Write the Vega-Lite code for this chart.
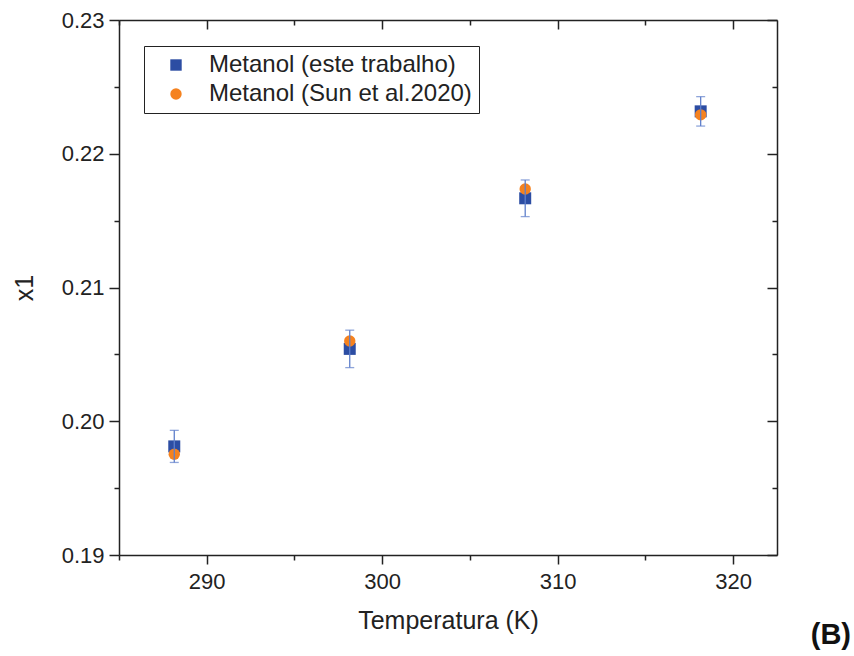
{
  "$schema": "https://vega.github.io/schema/vega-lite/v6.json",
  "width": 658,
  "height": 535,
  "autosize": "none",
  "padding": {"left": 119, "top": 20, "right": 77, "bottom": 101},
  "background": "white",
  "title": {
    "text": "(B)",
    "orient": "bottom",
    "anchor": "end",
    "frame": "group",
    "font": "Liberation Sans",
    "fontSize": 29,
    "fontWeight": "bold",
    "color": "#111111",
    "dx": 74,
    "offset": -12
  },
  "data": {
    "values": [
      {"T": 288.15, "x1": 0.19812, "err": 0.0012, "series": "Metanol (este trabalho)"},
      {"T": 298.15, "x1": 0.20541, "err": 0.0014, "series": "Metanol (este trabalho)"},
      {"T": 308.15, "x1": 0.21667, "err": 0.00137, "series": "Metanol (este trabalho)"},
      {"T": 318.15, "x1": 0.22317, "err": 0.0011, "series": "Metanol (este trabalho)"},
      {"T": 288.15, "x1": 0.19753, "err": null, "series": "Metanol (Sun et al.2020)"},
      {"T": 298.15, "x1": 0.20600, "err": null, "series": "Metanol (Sun et al.2020)"},
      {"T": 308.15, "x1": 0.21737, "err": null, "series": "Metanol (Sun et al.2020)"},
      {"T": 318.15, "x1": 0.22291, "err": null, "series": "Metanol (Sun et al.2020)"}
    ]
  },
  "resolve": {"axis": {"x": "independent", "y": "independent"}},
  "layer": [
    {
      "transform": [{"filter": "datum.series === 'Metanol (este trabalho)'"}],
      "mark": {"type": "point", "filled": true, "opacity": 1, "size": 144},
      "encoding": {
        "x": {
          "field": "T", "type": "quantitative",
          "scale": {"domain": [285, 322.5], "nice": false, "zero": false},
          "axis": {
            "orient": "bottom",
            "title": "Temperatura (K)",
            "values": [285, 290, 295, 300, 305, 310, 315, 320],
            "labelExpr": "datum.value % 10 === 0 ? datum.label : ''",
            "tickSize": {"condition": {"test": "datum.value % 10 === 0", "value": 9}, "value": 5},
            "labelPadding": 7,
            "titlePadding": 16
          }
        },
        "y": {
          "field": "x1", "type": "quantitative",
          "scale": {"domain": [0.19, 0.23], "nice": false, "zero": false},
          "axis": {
            "orient": "left",
            "title": "x1",
            "values": [0.19, 0.195, 0.2, 0.205, 0.21, 0.215, 0.22, 0.225, 0.23],
            "format": ".2f",
            "labelExpr": "abs(round(datum.value * 1000)) % 10 === 0 ? datum.label : ''",
            "tickSize": {"condition": {"test": "abs(round(datum.value * 1000)) % 10 === 0", "value": 10}, "value": 5},
            "labelPadding": 5,
            "titlePadding": 24
          }
        },
        "color": {
          "field": "series", "type": "nominal",
          "scale": {"domain": ["Metanol (este trabalho)", "Metanol (Sun et al.2020)"], "range": ["#2C4DA3", "#F5821F"]},
          "legend": {"title": null}
        },
        "shape": {
          "field": "series", "type": "nominal",
          "scale": {"domain": ["Metanol (este trabalho)", "Metanol (Sun et al.2020)"], "range": ["square", "circle"]},
          "legend": {"title": null}
        }
      }
    },
    {
      "transform": [{"filter": "datum.series === 'Metanol (Sun et al.2020)'"}],
      "mark": {"type": "point", "filled": true, "opacity": 1, "size": 130},
      "encoding": {
        "x": {"field": "T", "type": "quantitative", "axis": null},
        "y": {"field": "x1", "type": "quantitative", "axis": null},
        "color": {"field": "series", "type": "nominal", "legend": {"title": null}},
        "shape": {"field": "series", "type": "nominal", "legend": {"title": null}}
      }
    },
    {
      "transform": [{"filter": "datum.series === 'Metanol (este trabalho)'"}],
      "mark": {"type": "errorbar", "ticks": true, "color": "#5F7FCB", "thickness": 1.3, "size": 9},
      "encoding": {
        "x": {
          "field": "T", "type": "quantitative",
          "axis": {
            "orient": "top",
            "title": null,
            "values": [285, 290, 295, 300, 305, 310, 315, 320],
            "labels": false,
            "tickSize": {"condition": {"test": "datum.value % 10 === 0", "value": -9}, "value": -5}
          }
        },
        "y": {
          "field": "x1", "type": "quantitative",
          "axis": {
            "orient": "right",
            "title": null,
            "values": [0.19, 0.195, 0.2, 0.205, 0.21, 0.215, 0.22, 0.225, 0.23],
            "labels": false,
            "tickSize": {"condition": {"test": "abs(round(datum.value * 1000)) % 10 === 0", "value": -10}, "value": -5}
          }
        },
        "yError": {"field": "err"}
      }
    }
  ],
  "config": {
    "view": {"stroke": null},
    "font": "Liberation Sans",
    "axis": {
      "grid": false,
      "domainColor": "#222222",
      "domainWidth": 1.5,
      "tickColor": "#222222",
      "tickWidth": 1.5,
      "labelFont": "Liberation Sans",
      "labelFontSize": 22,
      "labelColor": "#222222",
      "titleFont": "Liberation Sans",
      "titleFontSize": 25,
      "titleFontWeight": "normal",
      "titleColor": "#222222"
    },
    "legend": {
      "orient": "none",
      "legendX": 25,
      "legendY": 26,
      "direction": "vertical",
      "padding": 7,
      "strokeColor": "#222222",
      "strokeWidth": 1,
      "fillColor": "white",
      "symbolSize": 130,
      "symbolOffset": 13,
      "symbolStrokeWidth": 0,
      "labelOffset": 21,
      "labelFont": "Liberation Sans",
      "labelFontSize": 24,
      "labelColor": "#222222",
      "labelLimit": 400,
      "rowPadding": 5
    }
  }
}
